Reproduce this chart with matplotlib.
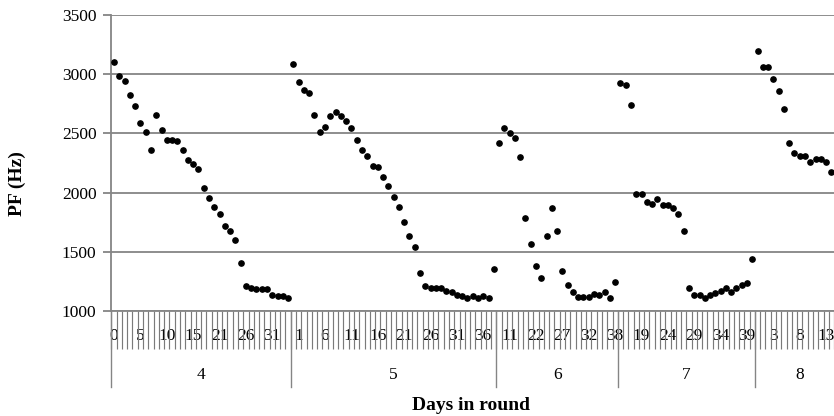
import numpy as np
import matplotlib
matplotlib.use('Agg')
import matplotlib.pyplot as plt
import matplotlib.transforms as mtransforms

plt.rcParams['font.family'] = ['Liberation Serif', 'DejaVu Serif']

# rounds and the days recorded in each (one category per day)
rounds = ['4', '5', '6', '7', '8']
days_r4 = list(range(0, 18)) + list(range(19, 35))
days_r5 = list(range(0, 39))
days_r6 = [9, 10, 11, 12, 13] + list(range(20, 37)) + [38]
days_r7 = list(range(15, 41))
days_r8 = list(range(0, 17))

pf_r4 = [3100, 2985, 2940, 2825, 2735, 2590, 2510, 2360, 2655, 2530, 2445, 2445,
         2433, 2360, 2273, 2239, 2199, 2041, 1954, 1881, 1819, 1720, 1673, 1600,
         1403, 1209, 1197, 1183, 1183, 1183, 1135, 1124, 1124, 1110]
pf_r5 = [3083, 2937, 2864, 2839, 2655, 2509, 2557, 2644, 2681, 2644, 2607, 2546,
         2447, 2360, 2312, 2228, 2214, 2129, 2056, 1965, 1881, 1749, 1636, 1538,
         1318, 1209, 1197, 1197, 1197, 1172, 1160, 1135, 1124, 1110, 1124, 1110,
         1124, 1110, 1355]
pf_r6 = [2422, 2543, 2506, 2458, 2298, 1783, 1563, 1380, 1279, 1636, 1867, 1673,
         1341, 1220, 1158, 1121, 1121, 1121, 1146, 1132, 1158, 1107, 1242]
pf_r7 = [2923, 2912, 2740, 1991, 1991, 1918, 1906, 1943, 1895, 1895, 1870, 1822,
         1676, 1197, 1135, 1135, 1110, 1135, 1150, 1172, 1197, 1160, 1197, 1222,
         1234, 1439]
pf_r8 = [3194, 3058, 3058, 2959, 2860, 2703, 2419, 2334, 2309, 2309, 2261, 2287,
         2287, 2261, 2177, np.nan, np.nan]

days = [days_r4, days_r5, days_r6, days_r7, days_r8]
pfs = [pf_r4, pf_r5, pf_r6, pf_r7, pf_r8]

day_labels = [str(d) for ds in days for d in ds]
pf = np.array([v for vs in pfs for v in vs], dtype=float)
x = np.arange(len(pf))
sizes = [len(ds) for ds in days]
edges = np.concatenate([[0], np.cumsum(sizes)]) - 0.5

W, H = 834, 416
fig = plt.figure(figsize=(W / 100, H / 100), dpi=100)
left, right, top, bottom = 111.4, 844.6, 15, 311
ax = fig.add_axes([left / W, 1 - bottom / H, (right - left) / W, (bottom - top) / H])

grey = '#858585'
ax.plot(x, pf, linestyle='none', marker='o', ms=3.8, color='black', zorder=3)

ax.set_xlim(-0.5, len(pf) - 0.5)
ax.set_ylim(1000, 3500)
ax.set_yticks(np.arange(1000, 3501, 500))
ax.yaxis.grid(True, color=grey, lw=1.3)
ax.set_axisbelow(True)

for s in ['top', 'right']:
    ax.spines[s].set_visible(False)
for s in ['left', 'bottom']:
    ax.spines[s].set_color(grey)
    ax.spines[s].set_linewidth(1.3)

ax.tick_params(axis='y', length=5.8, width=1.3, color=grey, pad=5, labelsize=12.5)

# category ticks at every boundary, labels every 5th category
ax.set_xticks(np.arange(-0.5, len(pf), 1.0), minor=True)
ax.tick_params(axis='x', which='minor', length=27.4, width=0.85, color='#7a7a7a')
major = np.arange(0, len(pf), 5)
ax.set_xticks(major)
ax.set_xticklabels([day_labels[i] for i in major])
ax.tick_params(axis='x', which='major', length=0, pad=12, labelsize=12.5)

# round dividers and round labels
trans = mtransforms.blended_transform_factory(ax.transData, ax.transAxes)
depth = -(387.3 - bottom) / (bottom - top)
for e in edges[:-1]:
    ax.plot([e, e], [0, depth], color=grey, lw=1.0, transform=trans, clip_on=False)
for r, a, b in zip(rounds, edges[:-1], edges[1:]):
    ax.text((a + b) / 2, -(375 - bottom) / (bottom - top), r, transform=trans,
            ha='center', va='center', fontsize=12.5)

ax.set_ylabel('PF (Hz)', fontsize=14, fontweight='bold')
ax.yaxis.label.set_va('center')
ax.yaxis.set_label_coords((17 - left) / (right - left), 0.43)
ax.set_xlabel('Days in round', fontsize=14, fontweight='bold')
ax.xaxis.label.set_va('center')
ax.xaxis.set_label_coords((471 - left) / (right - left), -(405 - bottom) / (bottom - top))

fig.savefig('out.png', dpi=100)
